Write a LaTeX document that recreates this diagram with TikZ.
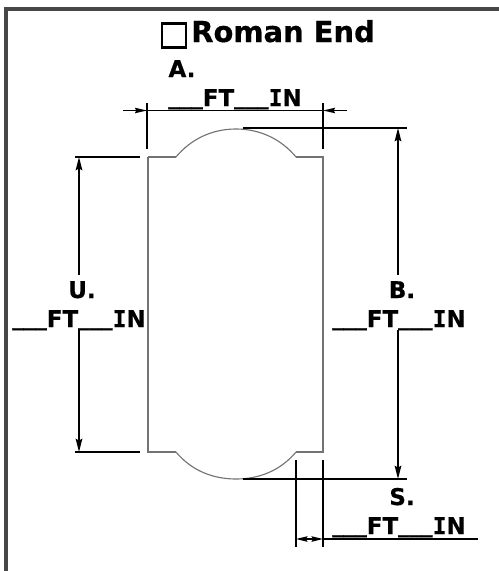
\documentclass[tikz,border=0pt]{standalone}
\usepackage{fontspec}
\setmainfont{DejaVu Sans}[BoldFeatures={FakeBold=0.6}]
\newfontfamily\monob{DejaVu Sans Mono}[BoldFont=* Bold,BoldFeatures={FakeBold=0.6}]
\usetikzlibrary{arrows.meta}
\newcommand{\blnk}{\raisebox{1.5pt}{\_\_\_}}
\newcommand{\dimtext}{\blnk FT\blnk{\monob\bfseries I}N}
\tikzset{
  x=0.75pt,y=-0.75pt,
  frame/.style={draw=black!72,line width=3pt},
  outline/.style={draw=black!55,line width=0.85pt},
  extline/.style={draw=black,line width=1.2pt},
  dimline/.style={draw=black,line width=1.2pt,-{Stealth[length=10pt,width=5pt,inset=1.5pt]}},
  sidearrow/.style={draw=black,line width=1.2pt,-{Stealth[length=9pt,width=4pt,inset=1pt]}},
  smallarrow/.style={draw=black,line width=1.2pt,-{Stealth[length=8.5pt,width=4pt,inset=1pt]}},
  lab/.style={font=\fontsize{17.25pt}{20pt}\selectfont\bfseries,inner sep=0pt,anchor=base west},
  lett/.style={font=\fontsize{17.25pt}{20pt}\selectfont\bfseries,inner sep=0pt,anchor=base},
}
\begin{document}
\begin{tikzpicture}
\useasboundingbox (0,0) rectangle (499,571);
\fill[white] (0,0) rectangle (499,571);
% frame
\draw[frame] (5.5,571) -- (5.5,9) ;
\draw[frame] (3.5,9) -- (499,9);
% title
\node[draw=black,line width=1.6pt,minimum width=18.6pt,minimum height=18pt,inner sep=0pt] (box) at (174,35.5) {};
\node[font=\fontsize{21.7pt}{24pt}\selectfont\bfseries,inner sep=0pt,anchor=base west] (title) at (191,42) {Roman End};
% outline
\draw[outline,line join=miter] (148,157) -- (148,452) -- (176,452)
  (296,452) -- (323,452) -- (323,157) -- (296,157)
  (176,157) -- (148,157);
\draw[outline] (176,157) .. controls (191,139) and (212,129) .. (236,129) .. controls (260,129) and (281,139) .. (296,157);
\draw[outline] (176,452) .. controls (191,470) and (212,479) .. (236,479) .. controls (260,479) and (281,470) .. (296,452);
% A
\node[lett] (la) at (182,77) {A.};
\node[lab] (ta) at (168,106) {\dimtext};
\coordinate (a1) at (147,103); \coordinate (a2) at (147,149);
\coordinate (a3) at (323,103); \coordinate (a4) at (323,149);
\draw[extline] (a1) -- (a2);
\draw[extline] (a3) -- (a4);
\coordinate (a5) at (123,110.5); \coordinate (a6) at (147,110.5);
\coordinate (a7) at (347,110.5); \coordinate (a8) at (323,110.5);
\draw[sidearrow] (a5) -- (a6);
\draw[sidearrow] (a7) -- (a8);
\draw[extline] (a6) -- (a8);
% B
\coordinate (b1) at (243,128); \coordinate (b2) at (407,128);
\coordinate (b3) at (243,479); \coordinate (b4) at (407,479);
\draw[extline] (b1) -- (b2);
\draw[extline] (b3) -- (b4);
\node[lett] (lb) at (402,298) {B.};
\node[lab] (tb) at (332,327) {\dimtext};
\coordinate (b5) at (398,275); \coordinate (b6) at (398,128);
\coordinate (b7) at (398,330); \coordinate (b8) at (398,479);
\draw[dimline] (b5) -- (b6);
\draw[dimline] (b7) -- (b8);
% U
\coordinate (u1) at (75,157); \coordinate (u2) at (140,157);
\coordinate (u3) at (75,452); \coordinate (u4) at (140,452);
\draw[extline] (u1) -- (u2);
\draw[extline] (u3) -- (u4);
\node[lett] (lu) at (82,298) {U.};
\node[lab] (tu) at (12,327) {\dimtext};
\coordinate (u5) at (79,275); \coordinate (u6) at (79,157);
\coordinate (u7) at (79,330); \coordinate (u8) at (79,452);
\draw[dimline] (u5) -- (u6);
\draw[dimline] (u7) -- (u8);
% S
\node[lett] (ls) at (402,505) {S.};
\node[lab] (ts) at (332,534) {\dimtext};
\coordinate (s1) at (296,460); \coordinate (s2) at (296,547);
\coordinate (s3) at (323,460); \coordinate (s4) at (323,547);
\draw[extline] (s1) -- (s2);
\draw[extline] (s3) -- (s4);
\coordinate (s5) at (309.5,539); \coordinate (s6) at (296,539);
\coordinate (s7) at (478,539); \coordinate (s8) at (323,539);
\draw[smallarrow] (s5) -- (s6);
\draw[smallarrow] (s5) -- (s8);
\draw[extline] (s8) -- (s7);
\end{tikzpicture}
\end{document}
